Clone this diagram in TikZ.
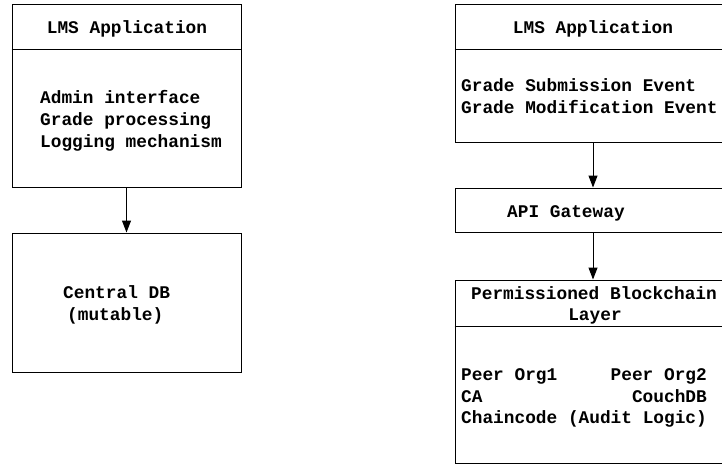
\documentclass[tikz,border=0pt]{standalone}
\usepackage{fontspec}
\setmonofont{Liberation Mono}
\usetikzlibrary{arrows.meta}
\begin{document}
\begin{tikzpicture}[x=1pt,y=-1pt,
        box/.style={draw,line width=1pt,inner sep=0pt},
        txt/.style={inner sep=0pt,font=\fontsize{17.8}{22}\selectfont\ttfamily\bfseries},
        arr/.style={line width=1pt,-{Triangle[length=12pt,width=9pt]}}]
    \useasboundingbox (0,0) rectangle (722,466);
    % old setup
    \node[box,minimum width=229,minimum height=183] (lmsl) at (126.5,95.5) {};
    \node[box,minimum width=229,minimum height=139] (cdb) at (126.5,302.5) {};
    \draw[line width=1pt] (lmsl.north west) ++(0,46) -- ++(229,0);
    \node[txt,anchor=base] (lmsltitle) at (127,33) {LMS Application};
    \node[txt,anchor=base west] (admin) at (40,103) {Admin interface};
    \node[txt,anchor=base west] (grade) at (40,125) {Grade processing};
    \node[txt,anchor=base west] (logging) at (40,147) {Logging mechanism};
    \node[txt,anchor=base west] (central) at (63,298) {Central DB};
    \node[txt,anchor=base west] (mutable) at (67,320) {(mutable)};
    \draw[arr] (lmsl) -- (cdb);
    % blockchain setup
    \node[box,minimum width=276,minimum height=138] (lmsr) at (593,73) {};
    \node[box,minimum width=276,minimum height=44] (api) at (593,210) {};
    \node[box,minimum width=276,minimum height=183] (chain) at (593,371.5) {};
    \draw[line width=1pt] (lmsr.north west) ++(0,46) -- ++(276,0);
    \draw[line width=1pt] (chain.north west) ++(0,47) -- ++(276,0);
    \node[txt,anchor=base] (lmsrtitle) at (593,33) {LMS Application};
    \node[txt,anchor=base west] (submit) at (461,91) {Grade Submission Event};
    \node[txt,anchor=base west] (modify) at (461,113) {Grade Modification Event};
    \node[txt,anchor=base west] (gateway) at (507,217) {API Gateway};
    \node[txt,anchor=base] (chaintitle) at (594,299) {Permissioned Blockchain};
    \node[txt,anchor=base] (layer) at (595,320) {Layer};
    \node[txt,anchor=base west] (org1) at (461,380) {Peer Org1};
    \node[txt,anchor=base east] (org2) at (707,380) {Peer Org2};
    \node[txt,anchor=base west] (ca) at (461,402) {CA};
    \node[txt,anchor=base east] (couch) at (707,402) {CouchDB};
    \node[txt,anchor=base west] (chaincode) at (461,423) {Chaincode (Audit Logic)};
    \draw[arr] (lmsr) -- (api);
    \draw[arr] (api) -- (chain);
\end{tikzpicture}
\end{document}
